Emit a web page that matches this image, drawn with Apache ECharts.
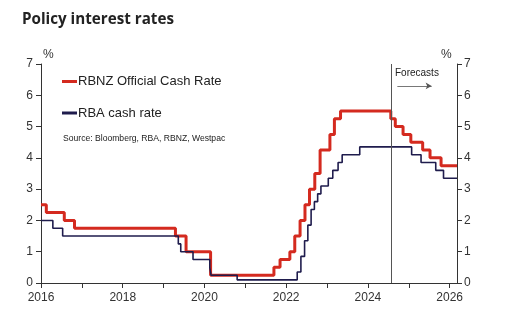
<!DOCTYPE html>
<html><head><meta charset="utf-8">
<script src="https://cdn.jsdelivr.net/npm/echarts@6/dist/echarts.min.js"></script>
<style>html,body{margin:0;padding:0;background:#fff}#c{width:512px;height:334px}</style>
</head><body><div id="c"></div>
<script>
// Data (decimal years at which each rate takes effect)
const rbnzDates = [2016.0, 2016.13, 2016.57, 2016.82, 2019.29, 2019.55, 2020.15, 2021.70, 2021.85, 2022.09, 2022.21, 2022.34, 2022.46, 2022.57, 2022.70, 2022.83, 2023.07, 2023.18, 2023.33, 2024.56, 2024.67, 2024.86, 2025.05, 2025.34, 2025.52, 2025.79, 2026.18];
const rbnzRates = [2.5, 2.25, 2.0, 1.75, 1.5, 1.0, 0.25, 0.5, 0.75, 1.0, 1.5, 2.0, 2.5, 3.0, 3.5, 4.25, 4.75, 5.25, 5.5, 5.25, 5.0, 4.75, 4.5, 4.25, 4.0, 3.75, 3.75];
const rbaDates = [2016.0, 2016.29, 2016.53, 2019.36, 2019.42, 2019.72, 2020.13, 2020.16, 2020.80, 2022.27, 2022.36, 2022.45, 2022.53, 2022.61, 2022.69, 2022.77, 2022.85, 2023.03, 2023.14, 2023.27, 2023.37, 2023.80, 2025.07, 2025.30, 2025.66, 2025.85, 2026.18];
const rbaRates = [2.0, 1.75, 1.5, 1.25, 1.0, 0.75, 0.5, 0.25, 0.1, 0.35, 0.85, 1.35, 1.85, 2.35, 2.6, 2.85, 3.1, 3.35, 3.6, 3.85, 4.1, 4.35, 4.1, 3.85, 3.6, 3.35, 3.35];
const seriesNames = ['RBNZ Official Cash Rate', 'RBA cash rate'];
const forecastStart = 2024.56;
const forecastArrow = [[2024.72, 6.3], [2025.56, 6.3]];
const xMin = 2016, xMax = 2026.18;
const yTicks = [0, 1, 2, 3, 4, 5, 6, 7];

const zip = (a, b) => a.map((d, i) => [d, b[i]]);
const axisColor = '#333';
const txt = '#333';
const font = 'Liberation Sans, Arial, sans-serif';

const chart = echarts.init(document.getElementById('c'), null, {renderer: 'canvas'});
const yAxisBase = {
  type: 'value', min: yTicks[0], max: yTicks[yTicks.length - 1], interval: 1,
  splitLine: {show: false},
  axisLine: {show: true, lineStyle: {color: axisColor, width: 1}},
  axisTick: {show: true, length: 5, lineStyle: {color: axisColor}},
  axisLabel: {color: txt, fontSize: 12, fontFamily: font, margin: 8}
};
chart.setOption({
  animation: false,
  title: [
    {text: 'Policy interest rates', left: 17, top: 7,
     textStyle: {fontSize: 15.2, fontWeight: 'bold', color: '#222', fontFamily: 'Open Sans, sans-serif'}},
    {text: 'Source: Bloomberg, RBA, RBNZ, Westpac', left: 58, top: 129,
     textStyle: {fontSize: 8.6, fontWeight: 'normal', color: '#222', fontFamily: font}}
  ],
  legend: {
    orient: 'vertical', left: 57, top: 70, itemGap: 18.5,
    itemWidth: 15, itemHeight: 3, icon: 'rect',
    textStyle: {fontSize: 13, color: '#222', fontFamily: font, padding: [0, 0, 0, -4]},
    data: seriesNames
  },
  graphic: [
    {type: 'text', left: 43, top: 49, style: {text: '%', fontSize: 12, fill: txt, fontFamily: font}},
    {type: 'text', left: 441, top: 49, style: {text: '%', fontSize: 12, fill: txt, fontFamily: font}},
    {type: 'text', left: 395, top: 68, style: {text: 'Forecasts', fontSize: 10, fill: '#222', fontFamily: font}}
  ],
  grid: {left: 41, right: 55, top: 64, bottom: 51},
  xAxis: {
    type: 'value', min: xMin, max: xMax, interval: 1,
    splitLine: {show: false},
    axisLine: {show: true, lineStyle: {color: axisColor}},
    axisTick: {show: true, length: 5, lineStyle: {color: axisColor}},
    axisLabel: {color: txt, fontSize: 12, fontFamily: font, margin: 9,
      showMaxLabel: false,
      formatter: v => (Number.isInteger(v) && v % 2 === 0) ? String(v) : ''}
  },
  yAxis: [
    Object.assign({}, yAxisBase, {position: 'left'}),
    Object.assign({}, yAxisBase, {position: 'right', axisLabel: Object.assign({}, yAxisBase.axisLabel, {margin: 7})})
  ],
  series: [
    {name: seriesNames[0], type: 'line', step: 'end', data: zip(rbnzDates, rbnzRates),
     showSymbol: false, symbol: 'none', color: '#d42a1f',
     lineStyle: {color: '#d42a1f', width: 3},
     markLine: {silent: true, symbol: 'none', label: {show: false},
       lineStyle: {color: '#555', width: 1, type: 'solid'},
       data: [{xAxis: forecastStart}]}
    },
    {name: seriesNames[1], type: 'line', step: 'end', data: zip(rbaDates, rbaRates),
     showSymbol: false, symbol: 'none', color: '#1f1c4d',
     lineStyle: {color: '#1f1c4d', width: 1.6},
     markLine: {silent: true, symbol: ['none', 'arrow'], symbolSize: [5, 6], label: {show: false},
       lineStyle: {color: '#555', width: 0.8, type: 'solid'},
       data: [[{coord: forecastArrow[0]}, {coord: forecastArrow[1]}]]}
    }
  ]
});
</script></body></html>
